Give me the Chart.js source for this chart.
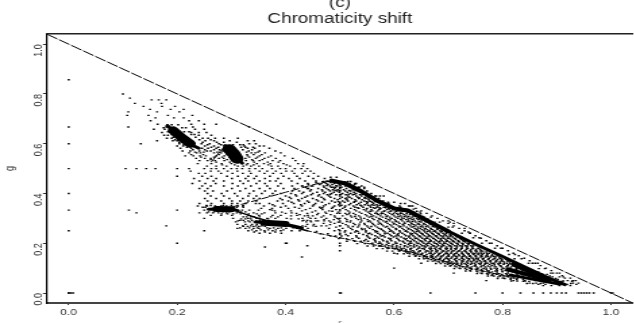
<!DOCTYPE html>
<html>
<head>
<meta charset="utf-8">
<script src="https://cdn.jsdelivr.net/npm/chart.js@4"></script>
<style>
html, body { margin: 0; padding: 0; background: #fff; overflow: hidden; }
/* the reference plot is stretched sideways, text and dots included */
canvas { display: block; width: 640px !important; height: 323px !important; }
</style>
</head>
<body>
<canvas id="chart" width="474" height="323"></canvas>
<script>
const titleLines = ['(c)', 'Chromaticity shift']
const xTicks = [0, 0.2, 0.4, 0.6, 0.8, 1]
const yTicks = [0, 0.2, 0.4, 0.6, 0.8, 1]
const refR = [-0.04, 1.04]
const refG = [1.04, -0.04]

const blobOneR = [0.182, 0.197, 0.21, 0.222, 0.24]
const blobOneG = [0.672, 0.645, 0.62, 0.6, 0.582]
const blobOneCoreR = [0.193, 0.208, 0.224]
const blobOneCoreG = [0.653, 0.625, 0.6]
const blobTwoR = [0.288, 0.297, 0.305, 0.32]
const blobTwoG = [0.592, 0.57, 0.55, 0.522]
const blobTwoCoreR = [0.296, 0.304, 0.31]
const blobTwoCoreG = [0.578, 0.56, 0.54]
const blobLeftR = [0.258, 0.28, 0.3, 0.312]
const blobLeftG = [0.337, 0.338, 0.337, 0.331]
const blobLeftCoreR = [0.272, 0.3]
const blobLeftCoreG = [0.338, 0.337]
const blobLowR = [0.345, 0.37, 0.39, 0.41, 0.43]
const blobLowG = [0.285, 0.282, 0.279, 0.272, 0.262]
const blobLowCoreR = [0.36, 0.4]
const blobLowCoreG = [0.282, 0.277]
const lowBandR = [0.31, 0.35, 0.4, 0.44]
const lowBandG = [0.328, 0.3, 0.272, 0.25]
const lowBandTwoR = [0.44, 0.5, 0.549, 0.64, 0.73, 0.823]
const lowBandTwoG = [0.25, 0.222, 0.2, 0.16, 0.105, 0.06]
const diagR = [0.3, 0.35, 0.4, 0.45, 0.485]
const diagG = [0.345, 0.375, 0.405, 0.435, 0.452]
const spurR = [0.263, 0.275, 0.29]
const spurG = [0.527, 0.558, 0.595]
const ridgeR = [0.485, 0.51, 0.54, 0.57, 0.6, 0.625, 0.66, 0.7]
const ridgeG = [0.452, 0.44, 0.408, 0.37, 0.34, 0.332, 0.292, 0.248]
const ridgeTwoR = [0.7, 0.75, 0.8, 0.85, 0.885, 0.915]
const ridgeTwoG = [0.248, 0.196, 0.147, 0.096, 0.06, 0.034]
const wedgeR = [0.815, 0.85, 0.88, 0.905]
const wedgeG = [0.072, 0.058, 0.046, 0.036]
const wedgeMidR = [0.81, 0.85, 0.885]
const wedgeMidG = [0.095, 0.072, 0.05]
const wedgeTwoR = [0.82, 0.85, 0.88]
const wedgeTwoG = [0.115, 0.085, 0.056]

// scattered points row by row: first number is g, the rest are r
const columnZero = [[0.857, 0], [0.667, 0], [0.6, 0], [0.5, 0], [0.4, 0], [0.333, 0], [0.25, 0], [0, 0], [0, 0.004], [0, 0.008]]
const rowBottom = [0, 0.5, 0.502, 0.667, 0.75, 0.8, 0.833, 0.857, 0.875, 0.889, 0.9, 0.909, 0.917, 0.94, 0.945, 0.95, 0.955, 0.96, 0.968, 1, 1.003]
const columnHalf = [0.44, 0.425, 0.41, 0.395, 0.38, 0.365, 0.35, 0.335, 0.32, 0.3, 0.285, 0.27, 0.25, 0.235, 0.222, 0.2, 0.19, 0.17]
const upperRows = [
  [0.8, 0.1], [0.783, 0.113], [0.776, 0.153, 0.166, 0.18], [0.762, 0.122, 0.171], [0.75, 0.138, 0.172, 0.196],
  [0.738, 0.15, 0.188, 0.212], [0.728, 0.11, 0.163, 0.204], [0.714, 0.108, 0.147, 0.183, 0.228],
  [0.704, 0.16, 0.194, 0.212], [0.692, 0.151, 0.222, 0.24], [0.678, 0.164, 0.226, 0.25, 0.272],
  [0.667, 0.11, 0.18, 0.229, 0.333], [0.658, 0.157, 0.177, 0.233, 0.25], [0.645, 0.172, 0.226, 0.24, 0.254],
  [0.634, 0.176, 0.183, 0.24, 0.263], [0.622, 0.181, 0.19, 0.247, 0.257, 0.27, 0.286, 0.312],
  [0.612, 0.163, 0.192, 0.2, 0.252, 0.268, 0.297, 0.33, 0.342],
  [0.6, 0.133, 0.204, 0.216, 0.245, 0.26, 0.277, 0.333, 0.345], [0.591, 0.2, 0.211, 0.251, 0.268, 0.324, 0.352, 0.36],
  [0.582, 0.206, 0.226, 0.246, 0.257, 0.272, 0.33, 0.343, 0.37], [0.571, 0.21, 0.224, 0.241, 0.255, 0.262, 0.284, 0.332, 0.352, 0.381],
  [0.563, 0.222, 0.236, 0.243, 0.268, 0.281, 0.337, 0.344, 0.362, 0.391], [0.551, 0.215, 0.23, 0.242, 0.253, 0.272, 0.287, 0.33, 0.352, 0.373, 0.398],
  [0.541, 0.235, 0.251, 0.262, 0.277, 0.286, 0.301, 0.326, 0.345, 0.361, 0.382, 0.413],
  [0.532, 0.241, 0.256, 0.27, 0.287, 0.311, 0.327, 0.34, 0.352, 0.376, 0.39, 0.418],
  [0.52, 0.238, 0.263, 0.282, 0.3, 0.319, 0.33, 0.347, 0.36, 0.372, 0.396, 0.423, 0.433],
  [0.51, 0.255, 0.272, 0.291, 0.312, 0.322, 0.336, 0.351, 0.374, 0.386, 0.408, 0.432],
  [0.5, 0.105, 0.125, 0.143, 0.16, 0.2, 0.222, 0.25, 0.263, 0.272, 0.286, 0.3, 0.31, 0.32, 0.333, 0.344, 0.357, 0.375, 0.39, 0.4, 0.417, 0.429, 0.44],
  [0.49, 0.225, 0.262, 0.276, 0.293, 0.311, 0.333, 0.352, 0.366, 0.382, 0.401, 0.412, 0.436, 0.446],
  [0.481, 0.24, 0.252, 0.281, 0.302, 0.321, 0.336, 0.361, 0.377, 0.392, 0.416, 0.431, 0.452],
  [0.469, 0.2, 0.246, 0.263, 0.292, 0.312, 0.331, 0.346, 0.371, 0.396, 0.421, 0.442, 0.46],
  [0.46, 0.231, 0.256, 0.272, 0.301, 0.326, 0.342, 0.362, 0.386, 0.406, 0.426, 0.451, 0.472],
  [0.45, 0.241, 0.267, 0.286, 0.316, 0.331, 0.352, 0.371, 0.382, 0.411, 0.436, 0.456, 0.476],
  [0.44, 0.228, 0.252, 0.271, 0.302, 0.322, 0.346, 0.362, 0.391, 0.422, 0.441, 0.466],
  [0.43, 0.246, 0.262, 0.286, 0.312, 0.336, 0.366, 0.386, 0.412, 0.431, 0.447],
  [0.42, 0.241, 0.256, 0.301, 0.326, 0.352, 0.371, 0.396, 0.416, 0.442],
  [0.41, 0.251, 0.266, 0.292, 0.316, 0.341, 0.362, 0.381, 0.412],
  [0.4, 0.256, 0.282, 0.306, 0.333, 0.356, 0.376, 0.391],
  [0.39, 0.262, 0.286, 0.311, 0.331, 0.346, 0.371],
  [0.38, 0.251, 0.272, 0.296, 0.321, 0.341, 0.352],
  [0.37, 0.256, 0.281, 0.301, 0.316, 0.331, 0.346],
  [0.36, 0.241, 0.263, 0.286, 0.301, 0.311, 0.326],
  [0.35, 0.238, 0.255, 0.27, 0.281, 0.291, 0.312, 0.321],
  [0.333, 0.111, 0.2, 0.25, 0.32, 0.333, 0.35, 0.375],
  [0.322, 0.125, 0.241, 0.255, 0.266, 0.276, 0.291, 0.31, 0.341, 0.361, 0.381, 0.411],
  [0.312, 0.262, 0.281, 0.301, 0.331, 0.351, 0.376, 0.391, 0.421, 0.441],
  [0.3, 0.25, 0.303, 0.331, 0.346, 0.366, 0.381, 0.402, 0.431, 0.446],
  [0.29, 0.312, 0.331, 0.346, 0.431, 0.446, 0.456, 0.471],
  [0.27, 0.18, 0.321, 0.336, 0.346, 0.356, 0.431, 0.451, 0.466],
  [0.26, 0.311, 0.326, 0.341, 0.351, 0.371, 0.386, 0.401, 0.421, 0.441],
  [0.25, 0.25, 0.331, 0.346, 0.361, 0.376, 0.391, 0.411, 0.426],
  [0.24, 0.352, 0.371, 0.392],
  [0.2, 0.2, 0.4, 0.402],
  [0.185, 0.362], [0.19, 0.44], [0.145, 0.43]
]
const cloudExtra = [
  [0.676, 0.182, 0.19, 0.202], [0.664, 0.175, 0.209, 0.216], [0.648, 0.183, 0.213, 0.222], [0.637, 0.19, 0.226, 0.232],
  [0.626, 0.193, 0.199, 0.234], [0.616, 0.196, 0.203, 0.241, 0.262], [0.606, 0.204, 0.21, 0.247, 0.273, 0.286, 0.31],
  [0.596, 0.212, 0.218, 0.256, 0.281, 0.303, 0.316, 0.322], [0.586, 0.218, 0.233, 0.263, 0.276, 0.318, 0.326, 0.34],
  [0.576, 0.229, 0.251, 0.268, 0.278, 0.321, 0.338], [0.566, 0.233, 0.249, 0.274, 0.328, 0.349],
  [0.556, 0.226, 0.248, 0.277, 0.292, 0.329, 0.341, 0.356], [0.546, 0.244, 0.268, 0.283, 0.296, 0.333, 0.348, 0.368],
  [0.536, 0.262, 0.292, 0.304, 0.319, 0.338, 0.357], [0.526, 0.272, 0.297, 0.307, 0.342, 0.367, 0.387],
  [0.515, 0.283, 0.306, 0.328, 0.341, 0.368, 0.402],
  [0.36, 0.345, 0.352], [0.352, 0.254, 0.262, 0.285, 0.3, 0.322], [0.345, 0.247, 0.252, 0.31, 0.322],
  [0.326, 0.258, 0.268, 0.284, 0.296, 0.318, 0.326], [0.318, 0.282, 0.293, 0.303, 0.317, 0.332, 0.347, 0.356],
  [0.306, 0.322, 0.328, 0.336, 0.342, 0.352, 0.373, 0.386], [0.298, 0.318, 0.326, 0.336, 0.353, 0.368, 0.41, 0.424],
  [0.292, 0.316, 0.322, 0.338, 0.352, 0.433, 0.44], [0.286, 0.308, 0.325, 0.334, 0.342, 0.438, 0.447],
  [0.276, 0.311, 0.326, 0.338, 0.347, 0.44, 0.452], [0.268, 0.322, 0.33, 0.341, 0.351, 0.362, 0.437, 0.456],
  [0.262, 0.316, 0.333, 0.348, 0.366, 0.378, 0.392, 0.414], [0.254, 0.338, 0.354, 0.368, 0.382, 0.396], [0.245, 0.342, 0.362, 0.381]
]
const lowerRows = [
  [0.448, 0.47, 0.48, 0.515, 0.52], [0.44, 0.46, 0.475, 0.49, 0.505, 0.53],
  [0.43, 0.43, 0.45, 0.47, 0.482, 0.495, 0.51, 0.525, 0.54],
  [0.42, 0.44, 0.46, 0.475, 0.49, 0.5, 0.512, 0.528, 0.545],
  [0.41, 0.425, 0.445, 0.468, 0.482, 0.495, 0.51, 0.52, 0.535, 0.55],
  [0.4, 0.41, 0.43, 0.45, 0.47, 0.485, 0.505, 0.52, 0.53, 0.545, 0.558],
  [0.39, 0.4, 0.42, 0.44, 0.46, 0.48, 0.5, 0.515, 0.53, 0.54, 0.552, 0.565],
  [0.38, 0.39, 0.41, 0.43, 0.45, 0.47, 0.49, 0.51, 0.522, 0.535, 0.548, 0.56, 0.572],
  [0.37, 0.385, 0.405, 0.425, 0.44, 0.46, 0.485, 0.505, 0.515, 0.53, 0.545, 0.555, 0.566, 0.58],
  [0.36, 0.37, 0.395, 0.415, 0.435, 0.455, 0.48, 0.5, 0.52, 0.535, 0.55, 0.562, 0.575, 0.59],
  [0.35, 0.36, 0.38, 0.4, 0.43, 0.45, 0.47, 0.49, 0.51, 0.525, 0.54, 0.556, 0.57, 0.585, 0.61, 0.63],
  [0.34, 0.355, 0.375, 0.405, 0.425, 0.445, 0.465, 0.485, 0.505, 0.52, 0.535, 0.55, 0.565, 0.575, 0.59, 0.6, 0.64],
  [0.33, 0.38, 0.41, 0.43, 0.455, 0.48, 0.5, 0.515, 0.53, 0.548, 0.56, 0.57, 0.583, 0.595, 0.608, 0.625, 0.65],
  [0.32, 0.4, 0.42, 0.44, 0.46, 0.475, 0.495, 0.51, 0.525, 0.54, 0.555, 0.565, 0.58, 0.592, 0.605, 0.615, 0.63, 0.66],
  [0.31, 0.41, 0.435, 0.45, 0.47, 0.49, 0.505, 0.52, 0.535, 0.55, 0.562, 0.575, 0.588, 0.6, 0.612, 0.622, 0.635, 0.67],
  [0.3, 0.455, 0.475, 0.495, 0.51, 0.53, 0.545, 0.56, 0.572, 0.585, 0.596, 0.607, 0.618, 0.63, 0.642, 0.68],
  [0.29, 0.46, 0.48, 0.5, 0.52, 0.54, 0.555, 0.57, 0.58, 0.592, 0.603, 0.615, 0.627, 0.638, 0.65, 0.69, 0.7],
  [0.28, 0.47, 0.49, 0.505, 0.525, 0.545, 0.56, 0.575, 0.588, 0.6, 0.61, 0.62, 0.632, 0.645, 0.655, 0.665, 0.7, 0.71],
  [0.27, 0.475, 0.5, 0.515, 0.535, 0.55, 0.565, 0.58, 0.595, 0.608, 0.618, 0.63, 0.64, 0.652, 0.662, 0.672, 0.71],
  [0.26, 0.48, 0.505, 0.52, 0.54, 0.555, 0.572, 0.59, 0.603, 0.615, 0.627, 0.638, 0.648, 0.658, 0.668, 0.68, 0.72, 0.73],
  [0.25, 0.49, 0.51, 0.53, 0.548, 0.565, 0.58, 0.595, 0.61, 0.622, 0.634, 0.645, 0.655, 0.665, 0.675, 0.685, 0.73],
  [0.24, 0.5, 0.52, 0.535, 0.555, 0.57, 0.588, 0.6, 0.615, 0.63, 0.64, 0.65, 0.66, 0.67, 0.68, 0.69, 0.74],
  [0.23, 0.515, 0.53, 0.55, 0.565, 0.58, 0.595, 0.608, 0.622, 0.635, 0.646, 0.656, 0.666, 0.676, 0.686, 0.696, 0.705, 0.75],
  [0.22, 0.47, 0.535, 0.555, 0.572, 0.59, 0.605, 0.618, 0.63, 0.642, 0.652, 0.662, 0.672, 0.682, 0.692, 0.702, 0.712, 0.76],
  [0.21, 0.545, 0.565, 0.58, 0.595, 0.61, 0.625, 0.637, 0.648, 0.658, 0.668, 0.678, 0.688, 0.698, 0.708, 0.718, 0.727, 0.77],
  [0.2, 0.56, 0.575, 0.59, 0.605, 0.62, 0.632, 0.645, 0.655, 0.665, 0.675, 0.685, 0.695, 0.705, 0.715, 0.725, 0.735, 0.78],
  [0.19, 0.575, 0.59, 0.605, 0.62, 0.63, 0.642, 0.652, 0.662, 0.672, 0.682, 0.692, 0.702, 0.712, 0.722, 0.732, 0.742, 0.79],
  [0.18, 0.59, 0.605, 0.618, 0.632, 0.645, 0.655, 0.665, 0.675, 0.685, 0.695, 0.705, 0.715, 0.725, 0.735, 0.745, 0.755, 0.8],
  [0.17, 0.61, 0.622, 0.635, 0.648, 0.66, 0.67, 0.68, 0.69, 0.7, 0.71, 0.72, 0.73, 0.74, 0.75, 0.76, 0.81],
  [0.16, 0.6, 0.625, 0.64, 0.652, 0.665, 0.675, 0.685, 0.695, 0.705, 0.715, 0.725, 0.735, 0.745, 0.755, 0.765, 0.775, 0.82],
  [0.15, 0.64, 0.655, 0.668, 0.68, 0.69, 0.7, 0.71, 0.72, 0.73, 0.74, 0.75, 0.76, 0.77, 0.78, 0.79, 0.83],
  [0.14, 0.66, 0.672, 0.685, 0.695, 0.705, 0.715, 0.725, 0.735, 0.745, 0.755, 0.765, 0.775, 0.785, 0.795, 0.84],
  [0.13, 0.675, 0.69, 0.702, 0.714, 0.725, 0.736, 0.747, 0.758, 0.768, 0.778, 0.788, 0.798, 0.81, 0.85],
  [0.12, 0.65, 0.7, 0.712, 0.724, 0.736, 0.748, 0.76, 0.772, 0.784, 0.796, 0.808, 0.82, 0.86, 0.865],
  [0.11, 0.705, 0.72, 0.735, 0.75, 0.765, 0.78, 0.795, 0.81, 0.825, 0.87],
  [0.1, 0.6, 0.72, 0.74, 0.755, 0.77, 0.785, 0.8, 0.815, 0.83, 0.88],
  [0.09, 0.74, 0.76, 0.772, 0.79, 0.805, 0.82, 0.845, 0.89],
  [0.08, 0.71, 0.76, 0.775, 0.79, 0.81, 0.825, 0.9, 0.905],
  [0.07, 0.78, 0.795, 0.81, 0.83, 0.86, 0.91],
  [0.06, 0.8, 0.82, 0.84, 0.85, 0.915, 0.925],
  [0.05, 0.77, 0.82, 0.84, 0.86, 0.87, 0.92, 0.93],
  [0.04, 0.85, 0.862, 0.875, 0.93, 0.94],
  [0.03, 0.875, 0.89, 0.905, 0.925]
]
const fieldRows = [
  [0.444, 0.456, 0.472, 0.483, 0.497, 0.512], [0.436, 0.442, 0.463, 0.478, 0.486, 0.499, 0.517, 0.527],
  [0.425, 0.437, 0.471, 0.484, 0.488, 0.492, 0.503, 0.519, 0.534],
  [0.415, 0.447, 0.467, 0.479, 0.487, 0.496, 0.507, 0.524, 0.538], [0.405, 0.433, 0.458, 0.473, 0.489, 0.499, 0.514, 0.526, 0.543],
  [0.395, 0.418, 0.447, 0.462, 0.477, 0.493, 0.511, 0.524, 0.537, 0.549], [0.385, 0.407, 0.436, 0.466, 0.483, 0.504, 0.518, 0.533, 0.547, 0.557],
  [0.375, 0.394, 0.423, 0.457, 0.472, 0.496, 0.513, 0.528, 0.541, 0.553, 0.563], [0.365, 0.411, 0.443, 0.467, 0.491, 0.509, 0.526, 0.539, 0.551, 0.56, 0.571],
  [0.355, 0.376, 0.428, 0.452, 0.474, 0.498, 0.517, 0.531, 0.546, 0.559, 0.568, 0.579], [0.345, 0.391, 0.417, 0.463, 0.487, 0.509, 0.528, 0.543, 0.557, 0.568, 0.581, 0.593, 0.612],
  [0.335, 0.371, 0.437, 0.468, 0.493, 0.511, 0.527, 0.544, 0.558, 0.572, 0.587, 0.598, 0.607, 0.619], [0.325, 0.393, 0.449, 0.473, 0.497, 0.518, 0.536, 0.552, 0.567, 0.577, 0.589, 0.601, 0.612, 0.624],
  [0.315, 0.426, 0.458, 0.483, 0.513, 0.529, 0.547, 0.558, 0.571, 0.584, 0.596, 0.607, 0.618, 0.629], [0.305, 0.442, 0.466, 0.491, 0.522, 0.538, 0.554, 0.567, 0.579, 0.592, 0.603, 0.614, 0.624, 0.633, 0.645],
  [0.295, 0.471, 0.489, 0.513, 0.534, 0.551, 0.563, 0.576, 0.589, 0.601, 0.612, 0.622, 0.633, 0.644, 0.653], [0.285, 0.483, 0.497, 0.519, 0.538, 0.557, 0.572, 0.584, 0.597, 0.608, 0.619, 0.63, 0.64, 0.65, 0.661, 0.703],
  [0.275, 0.482, 0.511, 0.528, 0.546, 0.562, 0.577, 0.592, 0.604, 0.616, 0.627, 0.637, 0.647, 0.658, 0.668], [0.265, 0.493, 0.516, 0.533, 0.552, 0.569, 0.584, 0.598, 0.61, 0.623, 0.633, 0.644, 0.653, 0.664, 0.675, 0.684],
  [0.255, 0.498, 0.523, 0.541, 0.561, 0.577, 0.592, 0.604, 0.618, 0.631, 0.641, 0.651, 0.661, 0.671, 0.68, 0.69], [0.245, 0.509, 0.528, 0.548, 0.566, 0.583, 0.598, 0.611, 0.625, 0.637, 0.647, 0.657, 0.667, 0.677, 0.686, 0.696, 0.737],
  [0.235, 0.511, 0.543, 0.559, 0.574, 0.592, 0.606, 0.619, 0.631, 0.643, 0.653, 0.663, 0.673, 0.683, 0.693, 0.703, 0.711], [0.225, 0.531, 0.552, 0.569, 0.583, 0.599, 0.613, 0.627, 0.638, 0.649, 0.66, 0.669, 0.679, 0.689, 0.699, 0.708, 0.717],
  [0.215, 0.548, 0.563, 0.578, 0.593, 0.608, 0.621, 0.634, 0.645, 0.656, 0.666, 0.676, 0.686, 0.695, 0.705, 0.714, 0.724], [0.205, 0.566, 0.573, 0.587, 0.602, 0.617, 0.629, 0.641, 0.652, 0.663, 0.673, 0.682, 0.692, 0.702, 0.711, 0.72, 0.731],
  [0.195, 0.578, 0.586, 0.598, 0.612, 0.626, 0.637, 0.649, 0.659, 0.669, 0.68, 0.689, 0.699, 0.708, 0.718, 0.727, 0.737], [0.185, 0.597, 0.604, 0.611, 0.625, 0.637, 0.647, 0.658, 0.668, 0.678, 0.687, 0.697, 0.706, 0.716, 0.725, 0.734, 0.744],
  [0.175, 0.607, 0.614, 0.622, 0.63, 0.642, 0.656, 0.667, 0.677, 0.686, 0.696, 0.705, 0.714, 0.723, 0.733, 0.742, 0.751, 0.759], [0.165, 0.622, 0.628, 0.637, 0.645, 0.658, 0.668, 0.679, 0.688, 0.697, 0.706, 0.716, 0.725, 0.733, 0.742, 0.751, 0.76, 0.77],
  [0.155, 0.636, 0.643, 0.651, 0.66, 0.672, 0.682, 0.692, 0.701, 0.71, 0.719, 0.728, 0.737, 0.746, 0.755, 0.763, 0.772, 0.781], [0.145, 0.654, 0.66, 0.668, 0.677, 0.687, 0.697, 0.707, 0.716, 0.725, 0.733, 0.742, 0.751, 0.76, 0.769, 0.778, 0.787, 0.794],
  [0.135, 0.668, 0.676, 0.684, 0.692, 0.701, 0.711, 0.72, 0.729, 0.738, 0.747, 0.755, 0.764, 0.773, 0.782, 0.791, 0.799, 0.806], [0.125, 0.683, 0.69, 0.698, 0.707, 0.716, 0.725, 0.734, 0.743, 0.752, 0.761, 0.769, 0.778, 0.787, 0.795, 0.803, 0.813],
  [0.115, 0.699, 0.708, 0.716, 0.724, 0.733, 0.741, 0.75, 0.759, 0.767, 0.776, 0.785, 0.793, 0.802, 0.811, 0.819, 0.829], [0.105, 0.715, 0.726, 0.734, 0.743, 0.752, 0.76, 0.768, 0.777, 0.788, 0.798, 0.807, 0.816, 0.825, 0.834, 0.842],
  [0.095, 0.734, 0.743, 0.752, 0.761, 0.77, 0.779, 0.789, 0.798, 0.808, 0.817, 0.826, 0.835, 0.843, 0.851], [0.085, 0.754, 0.763, 0.772, 0.781, 0.79, 0.8, 0.81, 0.818, 0.848, 0.857, 0.866],
  [0.075, 0.773, 0.781, 0.789, 0.799, 0.808, 0.817, 0.827, 0.835, 0.875, 0.882], [0.065, 0.792, 0.802, 0.81, 0.819, 0.829, 0.838, 0.848, 0.857, 0.892],
  [0.055, 0.815, 0.826, 0.838, 0.857, 0.868, 0.879, 0.902], [0.047, 0.838, 0.849, 0.888, 0.897, 0.909, 0.928], [0.035, 0.866, 0.879, 0.919, 0.936]
]
const ridgeEdge = [
  [0.465, 0.483, 0.494], [0.44, 0.518, 0.528], [0.425, 0.536, 0.545], [0.39, 0.567, 0.574, 0.581], [0.365, 0.589, 0.6], [0.36, 0.612, 0.62],
  [0.35, 0.627, 0.634], [0.325, 0.637, 0.648], [0.305, 0.656, 0.668], [0.285, 0.675, 0.684], [0.265, 0.7, 0.708], [0.24, 0.725, 0.74],
  [0.222, 0.746, 0.757], [0.2, 0.762, 0.776], [0.18, 0.786, 0.797], [0.155, 0.812, 0.823], [0.138, 0.822, 0.835], [0.12, 0.848, 0.855],
  [0.098, 0.867, 0.878], [0.08, 0.889, 0.893], [0.065, 0.905, 0.912], [0.05, 0.93, 0.935]
]
// second pass over the band under the ridge and the lower band, rows between the ones above
const speckleRows = [
  [0.4473, 0.468, 0.489, 0.503, 0.509], [0.4317, 0.476, 0.493, 0.501, 0.514, 0.521], [0.4123, 0.491, 0.5, 0.517, 0.529, 0.536],
  [0.3972, 0.482, 0.502, 0.516, 0.527, 0.541, 0.546], [0.3818, 0.513, 0.536, 0.545, 0.553, 0.559], [0.3674, 0.497, 0.527, 0.549, 0.557, 0.565, 0.569],
  [0.3527, 0.503, 0.538, 0.552, 0.563, 0.574, 0.583], [0.3426, 0.468, 0.533, 0.562, 0.573, 0.585, 0.596, 0.604], [0.3373, 0.549, 0.574, 0.591, 0.603, 0.611, 0.622, 0.636],
  [0.3286, 0.486, 0.556, 0.581, 0.593, 0.604, 0.616, 0.627, 0.642], [0.3184, 0.517, 0.569, 0.576, 0.599, 0.611, 0.623, 0.633, 0.649], [0.3077, 0.528, 0.558, 0.586, 0.608, 0.619, 0.627, 0.638, 0.653],
  [0.2978, 0.498, 0.539, 0.573, 0.593, 0.614, 0.626, 0.636, 0.647, 0.662], [0.2872, 0.513, 0.552, 0.586, 0.604, 0.625, 0.634, 0.646, 0.658, 0.669], [0.2769, 0.536, 0.571, 0.599, 0.617, 0.633, 0.643, 0.654, 0.666, 0.676],
  [0.2673, 0.524, 0.558, 0.587, 0.612, 0.636, 0.649, 0.659, 0.671, 0.682], [0.2574, 0.546, 0.576, 0.604, 0.626, 0.643, 0.656, 0.668, 0.679, 0.692], [0.2476, 0.457, 0.533, 0.569, 0.592, 0.621, 0.642, 0.662, 0.673, 0.688, 0.699],
  [0.2383, 0.464, 0.478, 0.552, 0.583, 0.608, 0.634, 0.652, 0.671, 0.682, 0.696, 0.707], [0.2291, 0.483, 0.492, 0.503, 0.576, 0.603, 0.628, 0.647, 0.664, 0.678, 0.691, 0.703, 0.714], [0.2187, 0.498, 0.512, 0.523, 0.565, 0.594, 0.623, 0.639, 0.658, 0.673, 0.687, 0.699, 0.711, 0.721],
  [0.2083, 0.513, 0.527, 0.539, 0.552, 0.587, 0.616, 0.631, 0.651, 0.667, 0.684, 0.697, 0.709, 0.719, 0.729], [0.1986, 0.532, 0.546, 0.558, 0.571, 0.603, 0.628, 0.643, 0.661, 0.678, 0.692, 0.706, 0.717, 0.727, 0.738], [0.1892, 0.551, 0.562, 0.572, 0.583, 0.596, 0.619, 0.636, 0.656, 0.674, 0.688, 0.704, 0.716, 0.726, 0.735, 0.746],
  [0.1783, 0.568, 0.579, 0.588, 0.601, 0.613, 0.63, 0.651, 0.669, 0.683, 0.698, 0.712, 0.724, 0.736, 0.746, 0.756], [0.1686, 0.587, 0.597, 0.609, 0.618, 0.631, 0.647, 0.663, 0.677, 0.692, 0.707, 0.719, 0.731, 0.742, 0.753, 0.764], [0.1578, 0.606, 0.618, 0.629, 0.638, 0.651, 0.668, 0.683, 0.698, 0.712, 0.726, 0.738, 0.749, 0.76, 0.771],
  [0.1476, 0.628, 0.639, 0.647, 0.656, 0.671, 0.686, 0.701, 0.714, 0.727, 0.739, 0.751, 0.762, 0.773, 0.784], [0.1377, 0.646, 0.655, 0.663, 0.672, 0.684, 0.699, 0.713, 0.726, 0.739, 0.751, 0.763, 0.775, 0.786, 0.797], [0.1283, 0.662, 0.671, 0.68, 0.689, 0.701, 0.715, 0.728, 0.741, 0.753, 0.766, 0.777, 0.789, 0.8, 0.809],
  [0.1186, 0.677, 0.686, 0.694, 0.703, 0.717, 0.73, 0.743, 0.756, 0.768, 0.78, 0.792, 0.803, 0.814, 0.824], [0.1087, 0.694, 0.703, 0.712, 0.722, 0.736, 0.748, 0.761, 0.773, 0.785, 0.797, 0.809, 0.82, 0.831], [0.0984, 0.711, 0.722, 0.731, 0.741, 0.753, 0.765, 0.778, 0.79, 0.802, 0.813, 0.825, 0.838, 0.847],
  [0.0886, 0.732, 0.741, 0.752, 0.763, 0.775, 0.787, 0.799, 0.811, 0.823, 0.836, 0.856], [0.0782, 0.753, 0.762, 0.771, 0.783, 0.794, 0.806, 0.863, 0.872], [0.0684, 0.773, 0.784, 0.796, 0.807, 0.818, 0.837, 0.887],
  [0.0587, 0.791, 0.804, 0.815, 0.827, 0.898], [0.0486, 0.816, 0.827, 0.842, 0.912], [0.0386, 0.845, 0.856, 0.87, 0.926]
]

const toPoints = (rs, gs) => rs.map((r, i) => ({ x: r, y: gs[i] }))
const rowsToPoints = (rows) => rows.flatMap(([g, ...rs]) => rs.map((r) => ({ x: r, y: g })))

const strokeSet = (rs, gs, width, dash) => ({
  type: 'line',
  data: toPoints(rs, gs),
  borderColor: '#000',
  borderWidth: width,
  borderCapStyle: 'round',
  borderJoinStyle: 'round',
  borderDash: dash || [],
  pointRadius: 0,
  tension: 0
})

const dotSet = (points) => ({
  type: 'scatter',
  data: points,
  pointStyle: 'line',
  pointRadius: 0.8,
  pointBorderWidth: 1.4,
  pointBorderColor: '#000',
  borderColor: '#000'
})

const config = {
  type: 'scatter',
  data: {
    datasets: [
      {
        type: 'line',
        data: toPoints(refR, refG),
        borderColor: '#000',
        borderWidth: 1,
        borderDash: [9, 1.5],
        pointRadius: 0
      },
      strokeSet(blobOneR, blobOneG, 3),
      strokeSet(blobOneCoreR, blobOneCoreG, 8),
      strokeSet(blobTwoR, blobTwoG, 3),
      strokeSet(blobTwoCoreR, blobTwoCoreG, 10),
      strokeSet(blobLeftR, blobLeftG, 3),
      strokeSet(blobLeftCoreR, blobLeftCoreG, 6),
      strokeSet(blobLowR, blobLowG, 3),
      strokeSet(blobLowCoreR, blobLowCoreG, 6),
      strokeSet(lowBandR, lowBandG, 1.5),
      strokeSet(lowBandTwoR, lowBandTwoG, 1, [3, 2]),
      strokeSet(diagR, diagG, 1, [5, 3]),
      strokeSet(spurR, spurG, 1),
      strokeSet(ridgeR, ridgeG, 4),
      strokeSet(ridgeTwoR, ridgeTwoG, 3),
      strokeSet(wedgeR, wedgeG, 3),
      strokeSet(wedgeMidR, wedgeMidG, 4),
      strokeSet(wedgeTwoR, wedgeTwoG, 4),
      dotSet(columnZero.map(([g, r]) => ({ x: r, y: g }))),
      dotSet(rowBottom.map((r) => ({ x: r, y: 0 }))),
      dotSet(columnHalf.map((g) => ({ x: 0.5, y: g }))),
      dotSet(rowsToPoints(upperRows)),
      dotSet(rowsToPoints(cloudExtra)),
      dotSet(rowsToPoints(lowerRows)),
      dotSet(rowsToPoints(fieldRows)),
      dotSet(rowsToPoints(ridgeEdge)),
      dotSet(rowsToPoints(speckleRows))
    ]
  },
  options: {
    responsive: false,
    animation: false,
    layout: { padding: 0 },
    plugins: {
      legend: { display: false },
      tooltip: { enabled: false },
      title: {
        display: true,
        fullSize: false,
        text: titleLines,
        color: '#222',
        font: { family: 'Liberation Sans', size: 14, weight: 'normal', lineHeight: 1.15 },
        padding: { top: -5, bottom: 7 }
      }
    },
    scales: {
      x: {
        type: 'linear',
        min: -0.04,
        max: 1.04,
        afterBuildTicks: (axis) => { axis.ticks = xTicks.map((v) => ({ value: v })) },
        afterFit: (axis) => { axis.height = 20; axis.paddingLeft = 0; axis.paddingRight = 0 },
        grid: { drawOnChartArea: false, drawTicks: true, tickLength: 2, color: '#333' },
        border: { display: true, color: '#444', width: 2 },
        ticks: {
          color: '#333',
          maxRotation: 0,
          padding: 2,
          font: { family: 'Liberation Sans', size: 9 },
          callback: (v) => v.toFixed(1)
        },
        title: {
          display: true,
          text: 'r',
          color: '#888',
          font: { family: 'Liberation Sans', size: 9 },
          padding: { top: 0, bottom: -6 }
        }
      },
      top: {
        type: 'linear',
        position: 'top',
        min: -0.04,
        max: 1.04,
        afterFit: (axis) => { axis.height = 0; axis.paddingLeft = 0; axis.paddingRight = 0 },
        grid: { display: false },
        border: { display: true, color: '#222', width: 1.5 },
        ticks: { display: false }
      },
      y: {
        type: 'linear',
        min: -0.04,
        max: 1.04,
        afterBuildTicks: (axis) => { axis.ticks = yTicks.map((v) => ({ value: v })) },
        afterFit: (axis) => { axis.width = 34.8; axis.paddingTop = 0; axis.paddingBottom = 0 },
        grid: { drawOnChartArea: false, drawTicks: true, tickLength: 3, color: '#333' },
        border: { display: true, color: '#000', width: 1.2 },
        ticks: {
          color: '#333',
          minRotation: 90,
          maxRotation: 90,
          padding: 3,
          font: { family: 'Liberation Sans', size: 9 },
          callback: (v) => v.toFixed(1)
        },
        title: {
          display: true,
          text: 'g',
          color: '#333',
          font: { family: 'Liberation Sans', size: 9 },
          padding: { top: 2, bottom: 0 }
        }
      }
    }
  }
}

new Chart(document.getElementById('chart').getContext('2d'), config)
</script>
</body>
</html>
